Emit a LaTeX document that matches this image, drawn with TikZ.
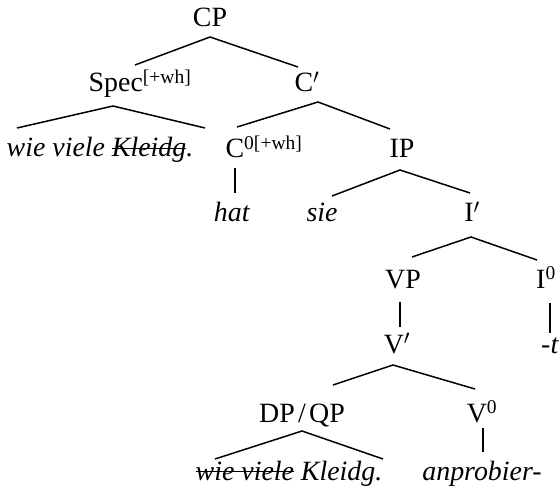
\documentclass[tikz,border=0pt]{standalone}
\usepackage{fontspec}
\setmainfont{Liberation Serif}
\newsavebox{\strkbox}
\newcommand{\mystrk}[1]{\sbox{\strkbox}{#1}\rlap{\rule[0.27em]{\wd\strkbox}{0.045em}}\usebox{\strkbox}}
\begin{document}
\begin{tikzpicture}[x=1bp,y=-1bp,
  lbl/.style={anchor=base, inner sep=0pt, font=\fontsize{28}{32}\selectfont},
  br/.style={line width=1.5bp}]
\useasboundingbox (0,0) rectangle (559,495);
% nodes (base anchor at centre of baseline)
\node[lbl] (CP)  at (210,27) {CP};
\node[lbl] (Spec) at (140,92) {Spec\textsuperscript{[+wh]}};
\node[lbl] (Cb)  at (307,92) {C$'$};
\node[lbl] (w1)  at (100,157) {\textit{wie viele \mystrk{Kleidg}.}};
\node[lbl] (C0)  at (264,158) {C\textsuperscript{0[+wh]}};
\node[lbl] (IP)  at (402,158) {IP};
\node[lbl] (hat) at (232,222) {\textit{hat}};
\node[lbl] (sie) at (322,222) {\textit{sie}};
\node[lbl] (Ib)  at (472,222) {I$'$};
\node[lbl] (VP)  at (403,288) {VP};
\node[lbl] (I0)  at (546,288) {I\textsuperscript{0}};
\node[lbl] (Vb)  at (397,353) {V$'$};
\node[lbl] (t)   at (550,353) {\textit{-t}};
\node[lbl] (DP)  at (302,422) {DP\kern0.12em/\kern0.12em QP};
\node[lbl] (V0)  at (482,422) {V\textsuperscript{0}};
\node[lbl] (w2)  at (289,480) {\textit{\mystrk{wie viele} Kleidg.}};
\node[lbl] (anp) at (482,480) {\textit{anprobier-}};
% connectors
\draw[br] ([shift={(-5,-27)}]Spec.base) -- ([shift={(0,10)}]CP.base) -- ([shift={(-9,-25)}]Cb.base);
\draw[br] ([shift={(-83,-29)}]w1.base) -- ([shift={(-27,14)}]Spec.base) -- ([shift={(105,-29)}]w1.base);
\draw[br] ([shift={(-27,-31)}]C0.base) -- ([shift={(11,10)}]Cb.base) -- ([shift={(-12,-29)}]IP.base);
\draw[br] ([shift={(-29,10)}]C0.base) -- ([shift={(3,-29)}]hat.base);
\draw[br] ([shift={(10,-26)}]sie.base) -- ([shift={(-2,12)}]IP.base) -- ([shift={(-2,-29)}]Ib.base);
\draw[br] ([shift={(9,-31)}]VP.base) -- ([shift={(-1,15)}]Ib.base) -- ([shift={(-9,-28)}]I0.base);
\draw[br] ([shift={(-3,14)}]VP.base) -- ([shift={(3,-26)}]Vb.base);
\draw[br] ([shift={(4,15)}]I0.base) -- ([shift={(0,-20)}]t.base);
\draw[br] ([shift={(31,-37)}]DP.base) -- ([shift={(-4,12)}]Vb.base) -- ([shift={(-7,-33)}]V0.base);
\draw[br] ([shift={(-74,-21)}]w2.base) -- ([shift={(0,9)}]DP.base) -- ([shift={(94,-21)}]w2.base);
\draw[br] ([shift={(1,6)}]V0.base) -- ([shift={(1,-28)}]anp.base);
\end{tikzpicture}
\end{document}
